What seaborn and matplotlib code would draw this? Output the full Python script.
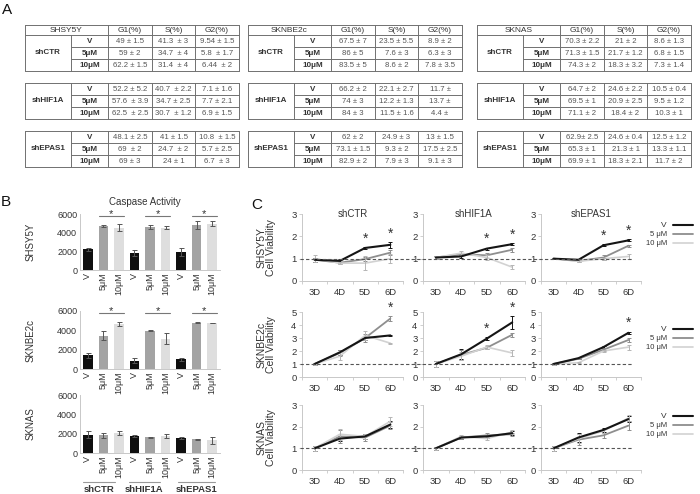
import numpy as np
import pandas as pd
import matplotlib
matplotlib.use("Agg")
import matplotlib.pyplot as plt
import seaborn as sns
from matplotlib.lines import Line2D
from matplotlib.transforms import blended_transform_factory

# ---------------- data ----------------
cell_lines = ["SHSY5Y", "SKNBE2c", "SKNAS"]
shrnas = ["shCTR", "shHIF1A", "shEPAS1"]
doses_tbl = ["V", "5μM", "10μM"]
phases = ["G1(%)", "S(%)", "G2(%)"]

tbl_SHSY5Y = [
    [["49 ± 1.5", "41.3  ± 3", "9.54 ± 1.5"], ["59 ± 2", "34.7  ± 4", "5.8  ± 1.7"], ["62.2 ± 1.5", "31.4  ± 4", "6.44  ± 2"]],
    [["52.2 ± 5.2", "40.7  ± 2.2", "7.1 ± 1.6"], ["57.6  ± 3.9", "34.7 ± 2.5", "7.7 ± 2.1"], ["62.5  ± 2.5", "30.7  ± 1.2", "6.9 ± 1.5"]],
    [["48.1 ± 2.5", "41 ± 1.5", "10.8  ± 1.5"], ["69  ± 2", "24.7  ± 2", "5.7 ± 2.5"], ["69 ± 3", "24 ± 1", "6.7  ± 3"]],
]
tbl_SKNBE2c = [
    [["67.5 ± 7", "23.5 ± 5.5", "8.9 ± 2"], ["86 ± 5", "7.6 ± 3", "6.3 ± 3"], ["83.5 ± 5", "8.6 ± 2", "7.8 ± 3.5"]],
    [["66.2 ± 2", "22.1 ± 2.7", "11.7 ±"], ["74 ± 3", "12.2 ± 1.3", "13.7 ±"], ["84 ± 3", "11.5 ± 1.6", "4.4 ±"]],
    [["62 ± 2", "24.9 ± 3", "13 ± 1.5"], ["73.1 ± 1.5", "9.3 ± 2", "17.5 ± 2.5"], ["82.9 ± 2", "7.9 ± 3", "9.1 ± 3"]],
]
tbl_SKNAS = [
    [["70.3 ± 2.2", "21 ± 2", "8.6 ± 1.3"], ["71.3 ± 1.5", "21.7 ± 1.2", "6.8 ± 1.5"], ["74.3 ± 2", "18.3 ± 3.2", "7.3 ± 1.4"]],
    [["64.7 ± 2", "24.6 ± 2.2", "10.5 ± 0.4"], ["69.5 ± 1", "20.9 ± 2.5", "9.5 ± 1.2"], ["71.1 ± 2", "18.4 ± 2", "10.3 ± 1"]],
    [["62.9± 2.5", "24.6 ± 0.4", "12.5 ± 1.2"], ["65.3 ± 1", "21.3 ± 1", "13.3 ± 1.1"], ["69.9 ± 1", "18.3 ± 2.1", "11.7 ± 2"]],
]
tables = [tbl_SHSY5Y, tbl_SKNBE2c, tbl_SKNAS]

# Panel B: caspase activity (order: shCTR V,5,10, shHIF1A V,5,10, shEPAS1 V,5,10)
bar_doses = ["V", "5μM", "10μM"]
casp_SHSY5Y = [2200, 4750, 4550, 1800, 4600, 4550, 1900, 4850, 4950]
casp_SHSY5Y_err = [150, 100, 350, 350, 250, 200, 450, 450, 250]
casp_SKNBE2c = [1400, 3450, 4650, 850, 3950, 3150, 1000, 4800, 4750]
casp_SKNBE2c_err = [300, 450, 250, 250, 50, 550, 150, 30, 30]
casp_SKNAS = [1900, 1850, 2100, 1800, 1650, 1750, 1600, 1400, 1300]
casp_SKNAS_err = [350, 250, 200, 100, 50, 200, 100, 50, 350]
casp_sig = [[True, True, True], [True, True, True], [False, False, False]]
casp_ticks = [0, 2000, 4000, 6000]

# Panel C: cell viability
days = ["3D", "4D", "5D", "6D"]
line_doses = ["V", "5 μM", "10 μM"]
via = {
    "SHSY5Y": {
        "shCTR":   {"V": [0.95, 0.90, 1.48, 1.62], "5 μM": [0.95, 0.82, 0.98, 1.27], "10 μM": [1.0, 0.80, 0.80, 1.0]},
        "shHIF1A": {"V": [1.05, 1.10, 1.45, 1.65], "5 μM": [1.05, 1.20, 1.15, 1.40], "10 μM": [1.05, 1.25, 1.05, 0.62]},
        "shEPAS1": {"V": [1.0, 0.95, 1.60, 1.82], "5 μM": [1.0, 0.90, 1.05, 1.58], "10 μM": [1.0, 0.88, 1.0, 1.10]},
    },
    "SKNBE2c": {
        "shCTR":   {"V": [1.0, 1.90, 3.0, 3.2], "5 μM": [1.0, 1.85, 3.0, 4.5], "10 μM": [1.0, 1.60, 3.2, 2.6]},
        "shHIF1A": {"V": [1.0, 1.75, 2.95, 4.2], "5 μM": [1.0, 1.70, 2.25, 3.25], "10 μM": [1.0, 1.60, 2.30, 1.85]},
        "shEPAS1": {"V": [1.0, 1.45, 2.30, 3.40], "5 μM": [1.0, 1.40, 2.10, 2.85], "10 μM": [1.0, 1.10, 2.0, 2.30]},
    },
    "SKNAS": {
        "shCTR":   {"V": [1.0, 1.45, 1.55, 2.10], "5 μM": [1.0, 1.55, 1.50, 2.05], "10 μM": [1.0, 1.65, 1.55, 2.25]},
        "shHIF1A": {"V": [1.0, 1.50, 1.55, 1.70], "5 μM": [1.0, 1.50, 1.60, 1.65], "10 μM": [1.0, 1.55, 1.45, 1.75]},
        "shEPAS1": {"V": [1.0, 1.50, 1.85, 2.35], "5 μM": [1.0, 1.40, 1.60, 2.05], "10 μM": [1.0, 1.45, 1.80, 2.40]},
    },
}
via_err = {
    "SHSY5Y": {
        "shCTR":   {"V": [0.1, 0.1, 0.05, 0.12], "5 μM": [0.1, 0.05, 0.1, 0.1], "10 μM": [0.15, 0.05, 0.3, 0.2]},
        "shHIF1A": {"V": [0.05, 0.05, 0.05, 0.05], "5 μM": [0.05, 0.05, 0.1, 0.1], "10 μM": [0.05, 0.08, 0.1, 0.08]},
        "shEPAS1": {"V": [0.03, 0.03, 0.05, 0.05], "5 μM": [0.03, 0.05, 0.1, 0.05], "10 μM": [0.03, 0.05, 0.05, 0.12]},
    },
    "SKNBE2c": {
        "shCTR":   {"V": [0.05, 0.2, 0.15, 0.05], "5 μM": [0.05, 0.2, 0.3, 0.2], "10 μM": [0.05, 0.3, 0.35, 0.05]},
        "shHIF1A": {"V": [0.2, 0.4, 0.1, 0.5], "5 μM": [0.2, 0.4, 0.1, 0.15], "10 μM": [0.2, 0.3, 0.15, 0.25]},
        "shEPAS1": {"V": [0.05, 0.05, 0.1, 0.1], "5 μM": [0.05, 0.05, 0.1, 0.15], "10 μM": [0.05, 0.05, 0.1, 0.2]},
    },
    "SKNAS": {
        "shCTR":   {"V": [0.1, 0.1, 0.1, 0.15], "5 μM": [0.1, 0.3, 0.15, 0.15], "10 μM": [0.1, 0.25, 0.1, 0.2]},
        "shHIF1A": {"V": [0.08, 0.08, 0.08, 0.08], "5 μM": [0.08, 0.08, 0.1, 0.08], "10 μM": [0.08, 0.08, 0.08, 0.1]},
        "shEPAS1": {"V": [0.1, 0.2, 0.1, 0.15], "5 μM": [0.1, 0.25, 0.1, 0.2], "10 μM": [0.1, 0.2, 0.1, 0.15]},
    },
}
via_sig = {
    "SHSY5Y": {"shCTR": ["5D", "6D"], "shHIF1A": ["5D", "6D"], "shEPAS1": ["5D", "6D"]},
    "SKNBE2c": {"shCTR": ["6D"], "shHIF1A": ["5D", "6D"], "shEPAS1": ["6D"]},
    "SKNAS": {"shCTR": [], "shHIF1A": [], "shEPAS1": []},
}
via_ymax = [3, 5, 3]

# ---------------- styles ----------------
sns.set_theme(style="white")
plt.rcParams['font.family'] = ['Liberation Sans', 'DejaVu Sans']
W, H = 700, 494
fig = plt.figure(figsize=(7, 4.94), dpi=100)
ov = fig.add_axes([0, 0, 1, 1], zorder=-5)
ov.set_xlim(0, W); ov.set_ylim(H, 0); ov.axis('off')

def add_ax(left, top, right, bottom):
    a = fig.add_axes([left / W, 1 - bottom / H, (right - left) / W, (bottom - top) / H])
    a.patch.set_alpha(0)
    return a

TXT = '#333333'
GRID = '#707070'
bar_colors = {"V": "#0f0f0f", "5μM": "#a3a3a3", "10μM": "#dedede"}
line_colors = {"V": "#151515", "5 μM": "#8e8e8e", "10 μM": "#d2d2d2"}
line_widths = {"V": 1.5, "5 μM": 1.3, "10 μM": 1.2}

# ---------------- Panel A: tables ----------------
tbl_x0 = [25, 248, 477]
col_w = [46, 37, 44, 43, 44]
hdr_top = 25
blk_top = [35, 83, 131]
row_h = 12

def hline(x0, x1, y):
    ov.plot([x0, x1], [y, y], color=GRID, lw=0.7)

def vline(x, y0, y1):
    ov.plot([x, x], [y0, y1], color=GRID, lw=0.7)

for t, cl in enumerate(cell_lines):
    xs = np.cumsum([tbl_x0[t]] + col_w)
    hline(xs[0], xs[-1], hdr_top)
    for xv in [xs[0], xs[2], xs[3], xs[4], xs[5]]:
        vline(xv, hdr_top, blk_top[0])
    ov.text((xs[0] + xs[2]) / 2, (hdr_top + blk_top[0]) / 2 + 0.5, cl, ha='center', va='center', fontsize=6, color=TXT)
    for k, ph in enumerate(phases):
        ov.text((xs[k + 2] + xs[k + 3]) / 2, (hdr_top + blk_top[0]) / 2 + 0.5, ph, ha='center', va='center', fontsize=6, color=TXT)
    for b, sh in enumerate(shrnas):
        top = blk_top[b]; bot = top + 3 * row_h
        hline(xs[0], xs[-1], top); hline(xs[0], xs[-1], bot)
        for xv in xs:
            vline(xv, top, bot)
        for r in range(1, 3):
            hline(xs[1], xs[-1], top + r * row_h)
        ov.text((xs[0] + xs[1]) / 2, (top + bot) / 2 - 1, sh, ha='center', va='center', fontsize=5.8, fontweight='bold', color=TXT)
        for r, d in enumerate(doses_tbl):
            yc = top + (r + 0.5) * row_h + 0.5
            ov.text((xs[1] + xs[2]) / 2, yc, d, ha='center', va='center', fontsize=5.8, fontweight='bold', color=TXT)
            for k in range(3):
                ov.text((xs[k + 2] + xs[k + 3]) / 2, yc, tables[t][b][r][k], ha='center', va='center', fontsize=5.6, color='#555555')

# panel letters
ov.text(7, 10, "A", ha='center', va='center', fontsize=11, color='#111111')
ov.text(6, 202, "B", ha='center', va='center', fontsize=11, color='#111111')
ov.text(257, 205, "C", ha='center', va='center', fontsize=11, color='#111111')

# ---------------- Panel B: bar charts ----------------
ov.text(145, 202, "Caspase Activity", ha='center', va='center', fontsize=7, color=TXT)
b_rows = [(214, 270), (311, 369), (395, 453)]
casp_vals = [casp_SHSY5Y, casp_SKNBE2c, casp_SKNAS]
casp_errs = [casp_SHSY5Y_err, casp_SKNBE2c_err, casp_SKNAS_err]
for i, cl in enumerate(cell_lines):
    top, bot = b_rows[i]
    ax = add_ax(80, top, 220, bot)
    keys = [f"{sh}|{d}" for sh in shrnas for d in bar_doses]
    df = pd.DataFrame({"key": keys, "val": casp_vals[i],
                       "dose": [d for sh in shrnas for d in bar_doses]})
    pal = {k: bar_colors[k.split("|")[1]] for k in keys}
    sns.barplot(data=df, x="key", y="val", hue="key", palette=pal, legend=False,
                ax=ax, width=0.62, errorbar=None, saturation=1, linewidth=0)
    ax.errorbar(np.arange(len(keys)), casp_vals[i], yerr=casp_errs[i], fmt='none',
                ecolor='#555555', elinewidth=0.7, capsize=1.8, capthick=0.7)
    ax.set_ylim(0, 6000)
    ax.set_xlim(-0.5, len(keys) - 0.5)
    ax.set_yticks(casp_ticks)
    ax.set_yticklabels([str(v) for v in casp_ticks], fontsize=6.5, color=TXT)
    ax.set_xticks(np.arange(len(keys)))
    ax.set_xticklabels(df["dose"], rotation=90, fontsize=6.5, color=TXT)
    ax.tick_params(axis='both', length=0, pad=2)
    ax.set_xlabel("")
    ax.set_ylabel(cl, fontsize=7, color=TXT)
    ax.yaxis.set_label_coords((36 - 80) / 140, 0.5)
    for s in ['top', 'right']:
        ax.spines[s].set_visible(False)
    for s in ['left', 'bottom']:
        ax.spines[s].set_color('#c8c8c8'); ax.spines[s].set_linewidth(0.7)
    for g in range(3):
        if casp_sig[i][g]:
            ax.plot([3 * g + 0.7, 3 * g + 2.3], [5750, 5750], color='#777777', lw=0.8, clip_on=False)
            ax.text(3 * g + 1.5, 5950, "*", ha='center', va='center', fontsize=8, color=TXT)

# group labels under last bar chart
grp_lines = [(83, 115), (129, 160), (178, 215)]
for g, sh in enumerate(shrnas):
    x0, x1 = grp_lines[g]
    ov.plot([x0, x1], [482, 482], color='#999999', lw=0.8)
    ov.text((x0 + x1) / 2, 489, sh, ha='center', va='center', fontsize=6.8, fontweight='bold', color=TXT)

# ---------------- Panel C: line plots ----------------
c_cols = [(302, 403), (423, 525), (541, 641)]
c_rows = [(214, 281), (312, 377), (405, 470)]
leg_y0 = [225, 329, 416]
for i, cl in enumerate(cell_lines):
    top, bot = c_rows[i]
    row_axes = []
    for j, sh in enumerate(shrnas):
        left, right = c_cols[j]
        ax = add_ax(left, top, right, bot)
        row_axes.append(ax)
        for d in line_doses:
            sub = pd.DataFrame({"day": days, "v": via[cl][sh][d]})
            sns.lineplot(data=sub, x="day", y="v", color=line_colors[d], lw=line_widths[d],
                         ax=ax, sort=False, errorbar=None, zorder=3 if d == "V" else 2)
            ax.errorbar(np.arange(len(days)), via[cl][sh][d], yerr=via_err[cl][sh][d],
                        fmt='none', ecolor=line_colors[d] if d != "10 μM" else '#b5b5b5',
                        elinewidth=0.7, capsize=1.6, capthick=0.7, zorder=2)
        for dd in via_sig[cl][sh]:
            k = days.index(dd)
            top_val = max(via[cl][sh][d][k] + via_err[cl][sh][d][k] for d in line_doses)
            ax.text(k, top_val + 0.02 * via_ymax[i], "*", ha='center', va='bottom', fontsize=10, color=TXT)
        ax.set_xlim(-0.5, 3.5)
        ax.set_ylim(0, via_ymax[i])
        ax.set_yticks(range(via_ymax[i] + 1))
        ax.set_yticklabels([str(v) for v in range(via_ymax[i] + 1)], fontsize=6.8, color=TXT)
        ax.set_xticks(range(len(days)))
        ax.set_xticklabels(days, fontsize=6.8, color=TXT)
        ax.tick_params(axis='x', length=0, pad=5)
        ax.tick_params(axis='y', length=2, width=0.6, color='#c8c8c8', pad=2, left=True)
        ax.set_xticks([-0.5, 0.5, 1.5, 2.5, 3.5], minor=True)
        ax.tick_params(axis='x', which='minor', length=2, width=0.6, color='#c8c8c8', bottom=True)
        ax.set_xlabel("")
        if j == 0:
            ax.set_ylabel(f"{cl}\nCell Viability", fontsize=7.5, color=TXT, linespacing=0.95)
            ax.yaxis.set_label_coords((276 - left) / (right - left), 0.5)
        else:
            ax.set_ylabel("")
        for s in ['top', 'right']:
            ax.spines[s].set_visible(False)
        for s in ['left', 'bottom']:
            ax.spines[s].set_color('#c8c8c8'); ax.spines[s].set_linewidth(0.7)
        if i == 0:
            ax.text(0.5, 1.0, sh, transform=ax.transAxes, ha='center', va='center', fontsize=7, color=TXT)
    tr = blended_transform_factory(fig.transFigure, row_axes[0].transData)
    fig.add_artist(Line2D([300 / W, 632 / W], [1, 1], transform=tr, ls=(0, (3, 2)),
                          color='#555555', lw=0.8, zorder=10))
    for k, d in enumerate(line_doses):
        yy = leg_y0[i] + k * 9
        ov.text(667, yy, d, ha='right', va='center', fontsize=5.5 if d != "V" else 6, color=TXT)
        ov.plot([673, 693], [yy, yy], color=line_colors[d], lw=line_widths[d])

fig.savefig("out.png", dpi=100)
